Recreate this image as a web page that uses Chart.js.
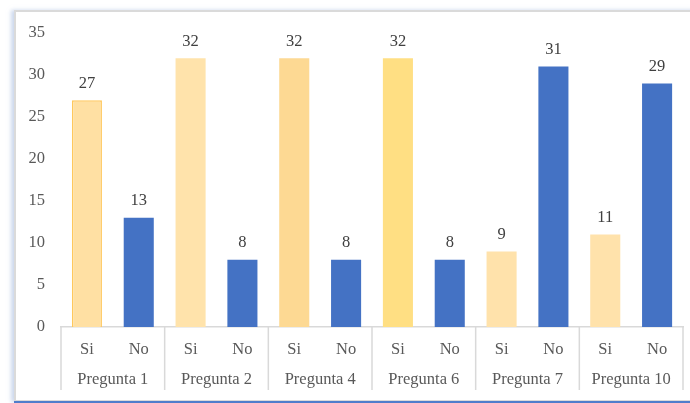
<!DOCTYPE html>
<html>
<head>
<meta charset="utf-8">
<script src="https://cdn.jsdelivr.net/npm/chart.js@4/dist/chart.umd.min.js"></script>
<style>
  html, body { margin:0; padding:0; background:#fff; width:690px; height:403px; overflow:hidden; }
  #frame { position:absolute; left:14px; top:10px; width:690px; height:388px;
           border-top:2px solid #DADADA; border-left:2px solid #DADADA; border-bottom:2px solid #DADADA;
           box-shadow:-3px 0 4px rgba(170,190,225,0.6); }
  #blue { position:absolute; left:14px; top:401px; width:690px; height:2px; background:#4F7DCB; }
  #wrap { position:absolute; left:0; top:0; width:690px; height:403px; }
</style>
</head>
<body>
<div id="frame"></div>
<div id="blue"></div>
<div id="wrap"><canvas id="c" width="690" height="403"></canvas></div>
<script>
const groups = ['Pregunta 1','Pregunta 2','Pregunta 4','Pregunta 6','Pregunta 7','Pregunta 10'];
const subLabels = ['Si','No'];
const siValues = [27,32,32,32,9,11];
const noValues = [13,8,8,8,31,29];
const yTicks = [0,5,10,15,20,25,30,35];

const siColors = ['#FFE0A3','#FFE3AB','#FDD993','#FFDF83','#FFE2AB','#FFE2AB'];
const siBorders = ['#FFC85C','#FFE3AB','#FDD993','#FFDF83','#FFE2AB','#FFE2AB'];
const siBorderW = [1.5,0,0,0,0,0];
const noColor = '#4472C4';

const labels = [], data = [], bg = [], bc = [], bw = [];
groups.forEach((g,i)=>{
  labels.push(subLabels[0]); data.push(siValues[i]); bg.push(siColors[i]); bc.push(siBorders[i]); bw.push(siBorderW[i]);
  labels.push(subLabels[1]); data.push(noValues[i]); bg.push(noColor); bc.push(noColor); bw.push(0);
});

const SERIF = '"Liberation Serif", "Times New Roman", serif';
const FS = 16.5;

const extras = {
  id:'extras',
  afterDraw(chart){
    const ctx = chart.ctx, x = chart.scales.x, y = chart.scales.y;
    const slot = (x.right - x.left)/labels.length;
    ctx.save();
    ctx.strokeStyle = '#D9D9D9'; ctx.lineWidth = 1.5;
    for (let i=0;i<=groups.length;i++){
      const px = i<groups.length ? x.getPixelForValue(2*i) - slot/2 : x.right;
      ctx.beginPath(); ctx.moveTo(px, y.bottom); ctx.lineTo(px, 390); ctx.stroke();
    }
    ctx.fillStyle = '#595959'; ctx.font = FS + 'px ' + SERIF;
    ctx.textAlign = 'center'; ctx.textBaseline = 'middle';
    groups.forEach((g,i)=>{
      const cx = (x.getPixelForValue(2*i) + x.getPixelForValue(2*i+1))/2;
      ctx.fillText(g, cx, 380);
    });
    ctx.fillStyle = '#404040';
    const meta = chart.getDatasetMeta(0);
    meta.data.forEach((bar,i)=>{
      ctx.fillText(String(data[i]), bar.x, bar.y - 17);
    });
    ctx.restore();
  }
};

new Chart(document.getElementById('c'), {
  type:'bar',
  data:{ labels, datasets:[{ data, backgroundColor:bg, borderColor:bc, borderWidth:bw,
    barPercentage:0.58, categoryPercentage:1.0 }] },
  options:{
    responsive:false, animation:false, devicePixelRatio:1,
    layout:{ padding:{ left:0, right:7, top:33, bottom:0 } },
    plugins:{ legend:{display:false}, tooltip:{enabled:false} },
    scales:{
      x:{
        grid:{ display:false, drawTicks:false },
        border:{ display:true, color:'#D9D9D9', width:1.5 },
        ticks:{ color:'#595959', font:{ family:SERIF, size:FS }, padding:13, maxRotation:0, autoSkip:false },
        afterFit(s){ s.height = 76; }
      },
      y:{
        min:0, max:35,
        afterBuildTicks(s){ s.ticks = yTicks.map(v=>({value:v})); },
        grid:{ display:false, drawTicks:false },
        border:{ display:false },
        ticks:{ color:'#595959', font:{ family:SERIF, size:FS }, padding:16 },
        afterFit(s){ s.width = 61; }
      }
    }
  },
  plugins:[extras]
});
</script>
</body>
</html>
